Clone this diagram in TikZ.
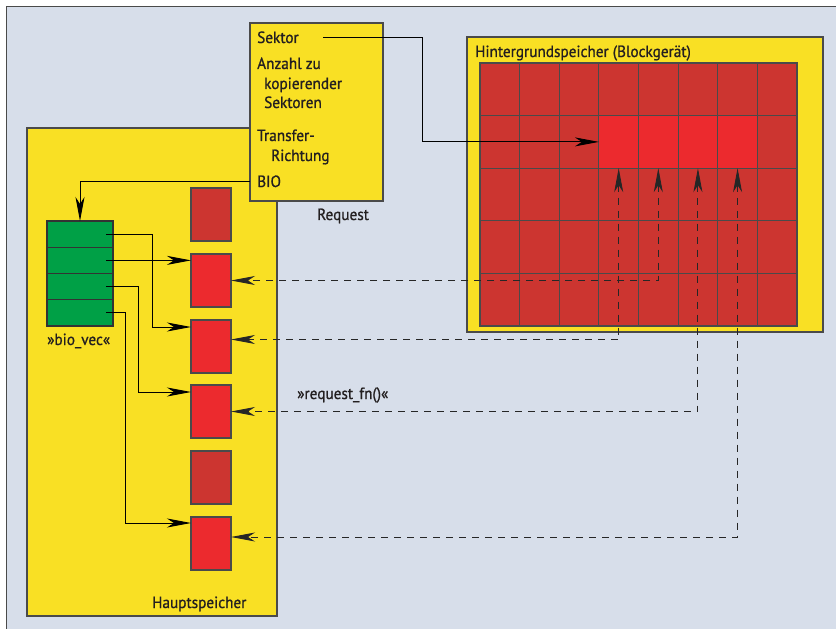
\documentclass[tikz,border=0pt]{standalone}
\usepackage{fontspec}
\setmainfont[FakeStretch=0.94,FakeBold=0.9]{PT Sans}
\usetikzlibrary{arrows.meta,calc}
\definecolor{bg}{HTML}{D7DEEA}
\definecolor{yel}{HTML}{F9E024}
\definecolor{dred}{HTML}{CC3530}
\definecolor{bred}{HTML}{EC2A2E}
\definecolor{grn}{HTML}{00A046}
\definecolor{frm}{HTML}{4A4A4A}
\definecolor{txt}{HTML}{231F20}
\begin{document}
\begin{tikzpicture}[x=1bp,y=-1bp,
  font=\fontsize{16.3}{19}\selectfont,
  box/.style={draw=frm, line width=1.5bp, fill=yel, anchor=north west, inner sep=0, outer sep=0},
  cell/.style={draw=frm, line width=1.2bp, inner sep=0, outer sep=0, minimum width=39.625bp, minimum height=52.6bp},
  memblk/.style={draw=frm, line width=1.2bp, anchor=north west, inner sep=0, outer sep=0, minimum width=40bp, minimum height=53bp},
  gcell/.style={draw=black!80, line width=1.2bp, fill=grn, anchor=north west, inner sep=0, outer sep=0, minimum width=66bp, minimum height=26.25bp},
  lbl/.style={text=txt, inner sep=0, anchor=base west},
  arr/.style={-{Stealth[length=24bp,width=9bp,inset=7bp]}, line width=0.9bp, black},
  darr/.style={{Stealth[length=24bp,width=9bp,inset=7bp]}-{Stealth[length=24bp,width=9bp,inset=7bp]}, line width=0.9bp, black!85, dash pattern=on 7bp off 6bp}
]
\useasboundingbox (0,0) rectangle (836,629);
\fill[white] (0,0) rectangle (836,629);
\fill[bg] (6,7) rectangle (836,629);
\draw[frm, line width=1bp] (6,629) -- (6,7) -- (836,7);

% main memory
\node[box, minimum width=250bp, minimum height=488bp] (mem) at (27,128) {};
\node[lbl] (tMem) at (152,608) {Hauptspeicher};

% block device
\node[box, minimum width=356bp, minimum height=295bp] (dev) at (467,37) {};
\node[lbl] (tDev) at (475,57) {Hintergrundspeicher (Blockgerät)};
\foreach \r in {1,...,5} {
  \foreach \c in {1,...,8} {
    \node[cell, fill=dred] (c-\r-\c) at ({480+(\c-0.5)*39.625},{63+(\r-0.5)*52.6}) {};
  }
}
\foreach \c in {4,...,7} {
  \node[cell, fill=bred] (hl-\c) at (c-2-\c) {};
}

% memory blocks
\node[memblk, fill=dred] (m1) at (191,188) {};
\node[memblk, fill=bred] (m2) at (191,254) {};
\node[memblk, fill=bred] (m3) at (191,320) {};
\node[memblk, fill=bred] (m4) at (191,385) {};
\node[memblk, fill=dred] (m5) at (191,451) {};
\node[memblk, fill=bred] (m6) at (191,517) {};

% bio_vec
\node[gcell] (b1) at (47,221) {};
\node[gcell] (b2) at (47,247.25) {};
\node[gcell] (b3) at (47,273.5) {};
\node[gcell] (b4) at (47,299.75) {};
\node[lbl] (tBio) at (47,345) {»bio\_vec«};

% request
\node[box, minimum width=133bp, minimum height=178bp] (req) at (250,23) {};
\node[lbl] (t1) at (257,43) {Sektor};
\node[lbl] (t2) at (257,69) {Anzahl zu};
\node[lbl] (t3) at (264,89) {kopierender};
\node[lbl] (t4) at (264,108) {Sektoren};
\node[lbl] (t5) at (257,141) {Transfer-};
\node[lbl] (t6) at (271,161) {Richtung};
\node[lbl] (t7) at (257,187) {BIO};
\node[lbl] (tReq) at (317,220) {Request};
\node[lbl] (tFn) at (297,399) {»request\_fn()«};

% connectors
\coordinate (sekS) at (323,37);
\coordinate (sekB) at (422,37);
\draw[arr] (sekS) -- (sekB) |- (c-2-4.west);
\coordinate (bioS) at (250,181);
\draw[arr] (bioS) -| (b1.north);

\draw[arr] ([xshift=-7bp]b1.east) -| ([xshift=-39bp,yshift=-7bp]m3.north west) -- ([yshift=-7bp]m3.north west);
\draw[arr] ([xshift=-7bp]b2.east) -- (b2.east -| m2.west);
\draw[arr] ([xshift=-7bp]b3.east) -| ([xshift=-53bp,yshift=-7bp]m4.north west) -- ([yshift=-7bp]m4.north west);
\draw[arr] ([xshift=-7bp]b4.east) -| ([xshift=-66bp,yshift=-6bp]m6.north west) -- ([yshift=-6bp]m6.north west);

\draw[darr] (c-2-5.south) |- (m2.east);
\draw[darr] (c-2-4.south) |- ([yshift=7bp]m3.east);
\draw[darr] (c-2-6.south) |- (m4.east);
\draw[darr] (c-2-7.south) |- ([yshift=6.5bp]m6.east);
\end{tikzpicture}
\end{document}
